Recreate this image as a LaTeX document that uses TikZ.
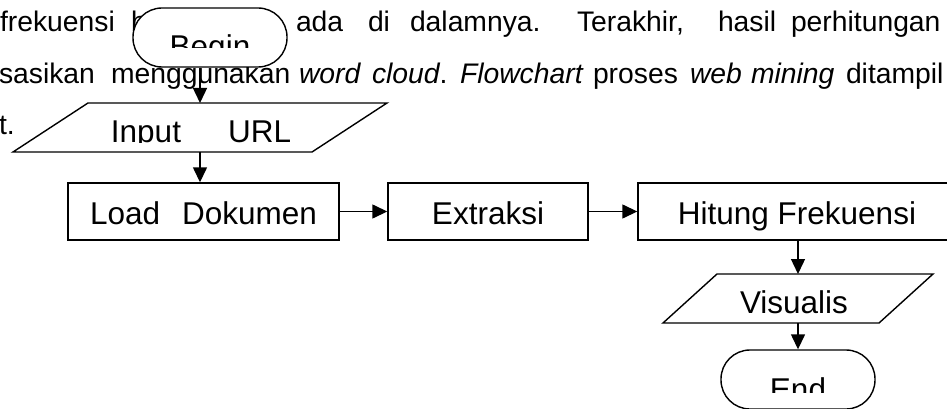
\documentclass[tikz,border=0pt]{standalone}
\usepackage{fontspec}
\setmainfont{Liberation Sans}
\usetikzlibrary{arrows.meta,calc}
\newcommand\myparafont{\fontsize{28.3pt}{34pt}\selectfont}
\newcommand\myboxfont{\fontsize{31.5pt}{38pt}\selectfont}
\begin{document}
\begin{tikzpicture}[x=1pt,y=-1pt,
  para/.style={anchor=base west, inner sep=0pt, outer sep=0pt, font=\myparafont},
  procbox/.style={draw, line width=1.4pt, fill=white, minimum width=#1, minimum height=57pt,
    inner sep=0pt, font=\myboxfont, text height=25pt, text depth=0pt},
  terminal/.style={draw, line width=1.4pt, fill=white, rounded corners=29pt,
    minimum width=154pt, minimum height=59pt, inner sep=0pt},
  iobox/.style={inner sep=0pt, outer sep=0pt, minimum width=#1, minimum height=49pt},
  ioline/.style={draw, line width=1.4pt, fill=white, line join=miter},
  shapetext/.style={anchor=base, inner sep=0pt, font=\myboxfont},
  conn/.style={line width=1.4pt, -{Triangle[length=15pt,width=14pt]}}]
\useasboundingbox (0,0) rectangle (947,409);
\fill[white] (0,0) rectangle (947,409);
\clip (0,0) rectangle (947,409);

% background paragraph
\node[para] (w1) at (0,32) {frekuensi};
\node[para] (w2) at (131,32) {b};
\node[para] (w3) at (296,32) {ada};
\node[para] (w4) at (368,32) {di};
\node[para] (w5) at (410,32) {dalamnya.};
\node[para] (w6) at (577,32) {Terakhir,};
\node[para] (w7) at (718,32) {hasil};
\node[para] (w8) at (791,32) {perhitungan};

\node[para] (v1) at (-1,84) {sasikan};
\node[para] (v2) at (111,84) {menggunakan};
\node[para] (v3) at (299,84) {\itshape word};
\node[para] (v4) at (372,84) {\itshape cloud\upshape.};
\node[para] (v5) at (460,84) {\itshape Flowchart};
\node[para] (v6) at (593,84) {proses};
\node[para] (v7) at (690,84) {\itshape web};
\node[para] (v8) at (751,84) {\itshape mining};
\node[para] (v9) at (846,84) {ditampil};

\node[para] (u1) at (-1,135) {t.};

% Begin
\node[terminal] (begin) at (210,37.5) {};
\begin{scope}
  \clip (133,8) rectangle (287,48);
  \node[shapetext] (begintext) at (210,57.5) {Begin};
\end{scope}

% Input URL
\node[iobox=374pt] (input) at (200,127.5) {};
\path[ioline] ($(input.north west)+(75,0)$) -- (input.north east)
  -- ($(input.south east)+(-75,0)$) -- (input.south west) -- cycle;
\begin{scope}
  \clip (0,103) rectangle (400,142);
  \node[shapetext] (inputtext) at (201,142.5) {Input\hspace{47pt}URL};
\end{scope}

% process boxes
\node[procbox=271pt] (load) at (203.5,211.5) {Load\hspace{22pt}Dokumen};
\node[procbox=200pt] (extr) at (488,211.5) {Extraksi};
\node[procbox=318pt] (hit) at (797,211.5) {Hitung Frekuensi};

% Visualis
\node[iobox=270pt] (vis) at (798,298.5) {};
\path[ioline] ($(vis.north west)+(54,0)$) -- (vis.north east)
  -- ($(vis.south east)+(-54,0)$) -- (vis.south west) -- cycle;
\node[shapetext] (vistext) at (794,313) {Visualis};

% End
\node[terminal] (endnode) at (798,379.5) {};
\begin{scope}
  \clip (721,350) rectangle (875,392);
  \node[shapetext] (endtext) at (798,400.5) {End};
\end{scope}

% connectors
\draw[conn] (begin.south -| input.north) -- (input.north);
\draw[conn] (input.south) -- (input.south |- load.north);
\draw[conn] (load.east) -- (extr.west);
\draw[conn] (extr.east) -- (hit.west);
\draw[conn] (hit.south -| vis.north) -- (vis.north);
\draw[conn] (vis.south) -- (endnode.north);
\end{tikzpicture}
\end{document}
